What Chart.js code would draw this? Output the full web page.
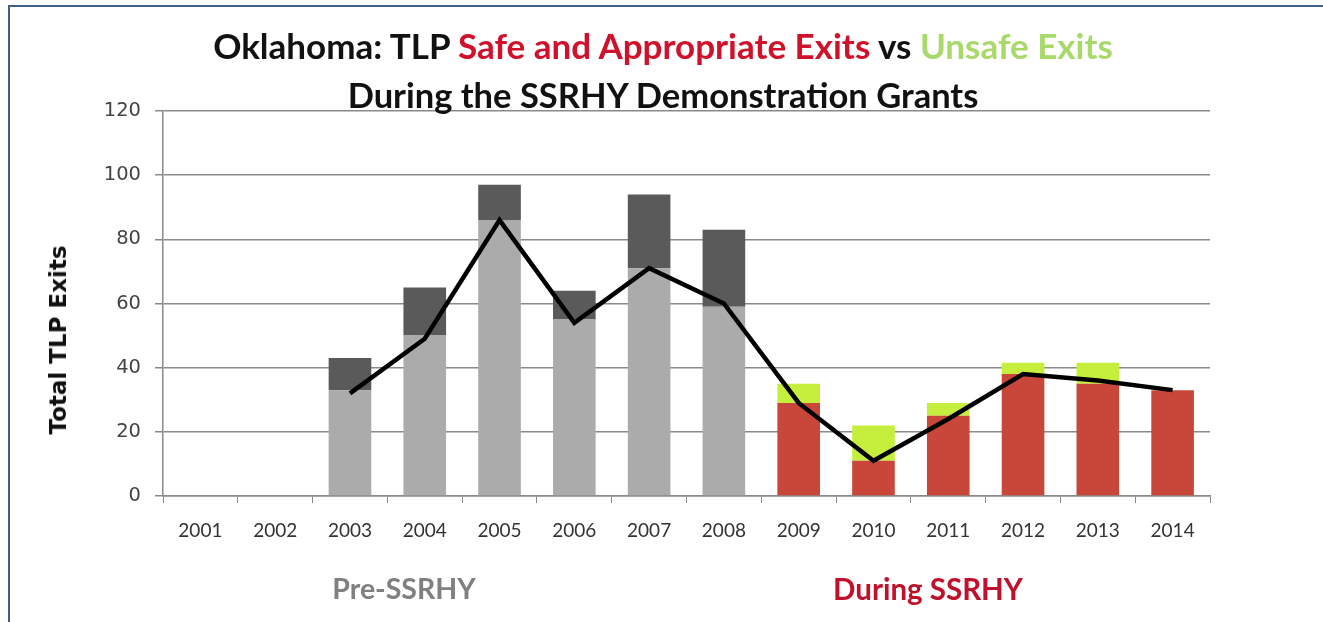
<!DOCTYPE html>
<html>
<head>
<meta charset="utf-8">
<script src="https://cdn.jsdelivr.net/npm/chart.js@4.4.1/dist/chart.umd.min.js"></script>
<style>
  html, body { margin: 0; padding: 0; background: #fff; }
  #wrap { position: relative; width: 1323px; height: 622px; overflow: hidden; font-family: Lato, "Open Sans", sans-serif; }
  #frame { position: absolute; left: 8px; top: 5px; width: 1330px; height: 640px; border-left: 2px solid #3f5f8a; border-top: 2px solid #3f5f8a; }
  canvas { position: absolute; left: 0; top: 0; }
  .txt { position: absolute; font-weight: bold; white-space: nowrap; }
  #t1 { left: 663px; top: 45px; font-size: 35px; color: #111; transform: translate(-50%, -50%); }
  #t2 { left: 663px; top: 94px; font-size: 34.5px; color: #111; transform: translate(-50%, -50%); }
  .red { color: #d0112b; }
  .green { color: #a9d96a; }
  #ytitle { left: 58px; top: 340px; font-family: "DejaVu Sans", sans-serif; font-size: 23px; color: #111; transform: translate(-50%, -50%) rotate(-90deg); }
  #pre { left: 404px; top: 588px; font-size: 28.5px; color: #808080; transform: translate(-50%, -50%); }
  #during { left: 928px; top: 588px; font-size: 29.5px; color: #c0102a; transform: translate(-50%, -50%); }
</style>
</head>
<body>
<div id="wrap">
  <div id="frame"></div>
  <canvas id="chart" width="1323" height="622"></canvas>
  <div class="txt" id="t1">Oklahoma: TLP <span class="red">Safe and Appropriate Exits</span> vs <span class="green">Unsafe Exits</span></div>
  <div class="txt" id="t2">During the SSRHY Demonstration Grants</div>
  <div class="txt" id="ytitle">Total TLP Exits</div>
  <div class="txt" id="pre">Pre-SSRHY</div>
  <div class="txt" id="during">During SSRHY</div>
</div>
<script>
const years = ['2001', '2002', '2003', '2004', '2005', '2006', '2007', '2008', '2009', '2010', '2011', '2012', '2013', '2014'];
const safeExits = [null, null, 33, 50, 86, 55, 71, 59, 29, 11, 25, 38, 35, 33];
const unsafeExits = [null, null, 10, 15, 11, 9, 23, 24, 6, 11, 4, 3.5, 6.5, 0];
const safeTrend = [null, null, 32, 49, 86, 54, 71, 60, 29, 11, 24, 38, 36, 33];
const yTicks = [0, 20, 40, 60, 80, 100, 120];
const firstGrantYear = 2009;

const during = years.map(y => Number(y) >= firstGrantYear);
const safeColors = during.map(d => d ? '#c9473a' : '#ababab');
const unsafeColors = during.map(d => d ? '#c6ee3c' : '#5a5a5a');

const ctx = document.getElementById('chart').getContext('2d');

new Chart(ctx, {
  type: 'bar',
  data: {
    labels: years,
    datasets: [
      {
        type: 'line',
        label: 'Safe trend',
        data: safeTrend,
        borderColor: '#000',
        borderWidth: 4.5,
        pointRadius: 0,
        tension: 0,
        order: 0
      },
      {
        label: 'Safe and Appropriate Exits',
        data: safeExits,
        backgroundColor: safeColors,
        barPercentage: 0.57,
        categoryPercentage: 1,
        stack: 's',
        order: 1
      },
      {
        label: 'Unsafe Exits',
        data: unsafeExits,
        backgroundColor: unsafeColors,
        barPercentage: 0.57,
        categoryPercentage: 1,
        stack: 's',
        order: 1
      }
    ]
  },
  options: {
    responsive: false,
    animation: false,
    layout: { padding: { top: 111, right: 113, bottom: 0, left: 0 } },
    plugins: { legend: { display: false }, tooltip: { enabled: false } },
    scales: {
      x: {
        stacked: true,
        grid: { drawOnChartArea: false, drawTicks: true, tickLength: 7, color: '#8a8a8a', offset: true },
        border: { color: '#8a8a8a', width: 1.5 },
        ticks: { color: '#333', font: { family: 'Lato, sans-serif', size: 19 }, padding: 16, maxRotation: 0 },
        afterFit: s => { s.height = 126; }
      },
      y: {
        stacked: true,
        min: 0,
        max: 120,
        afterBuildTicks: s => { s.ticks = yTicks.map(v => ({ value: v })); },
        grid: { color: '#8a8a8a', lineWidth: 1.5, tickLength: 8 },
        border: { color: '#8a8a8a', width: 1.5 },
        ticks: { color: '#444', font: { family: '"DejaVu Sans", sans-serif', size: 19.5 }, padding: 14 },
        afterFit: s => { s.width = 163; }
      }
    }
  }
});
</script>
</body>
</html>
